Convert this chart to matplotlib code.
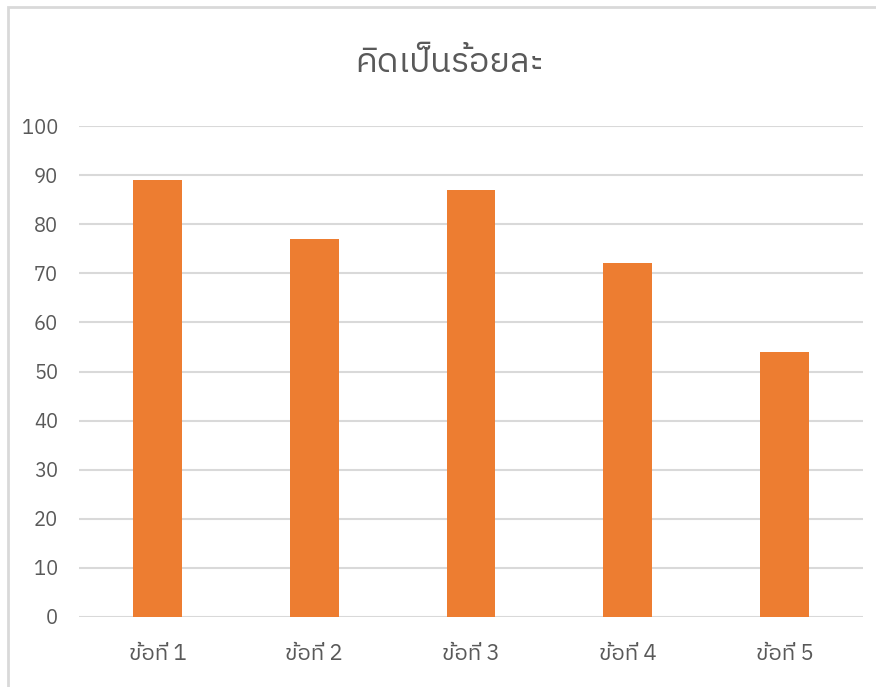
import matplotlib
matplotlib.use('Agg')
import matplotlib.pyplot as plt
from matplotlib import font_manager
from matplotlib.ft2font import FT2Font
from matplotlib.patches import Rectangle

categories = ['ข้อที่ 1', 'ข้อที่ 2', 'ข้อที่ 3', 'ข้อที่ 4', 'ข้อที่ 5']
values = [89, 77, 87, 72, 54]
yticks = [0, 10, 20, 30, 40, 50, 60, 70, 80, 90, 100]
title = 'คิดเป็นร้อยละ'

# find an installed font that has Thai glyphs
thai_font = None
names = []
for f in font_manager.fontManager.ttflist:
    try:
        cmap = FT2Font(f.fname).get_charmap()
    except Exception:
        continue
    if ord('ข') in cmap:
        names.append(f.name)
pref = [n for n in names if 'Thai' in n] + names
if pref:
    thai_font = pref[0]

families = ([thai_font] if thai_font else []) + ['DejaVu Sans']
plt.rcParams['font.family'] = families

fig = plt.figure(figsize=(8.76, 6.87), dpi=100)
fig.patches.append(Rectangle((8 / 876, -0.1), 1.2, 1 - 7 / 687 + 0.1,
                             transform=fig.transFigure, fill=False,
                             edgecolor='#d9d9d9', lw=2.0))

ax = fig.add_axes([79 / 876, 1 - 617 / 687, (863 - 79) / 876, (617 - 126) / 687])
x = range(len(categories))
ax.bar(x, values, width=0.31, color='#ed7d31', zorder=2)

ax.set_xlim(-0.5, len(categories) - 0.5)
ax.set_ylim(0, 100)
ax.set_yticks(yticks)
ax.set_xticks(list(x))
ax.set_xticklabels(categories)

for s in ax.spines.values():
    s.set_visible(False)
ax.grid(axis='y', color='#d9d9d9', lw=1.5, zorder=0)
ax.tick_params(axis='both', length=0, colors='#595959')
ax.tick_params(axis='y', pad=15, labelsize=14.5)
ax.tick_params(axis='x', pad=19, labelsize=16)

fig.text(450 / 876, 1 - 63 / 687, title, ha='center', va='center',
         fontsize=24.5, color='#595959')

if not thai_font:
    fig.text(0.01, 0.01, 'no thai font', fontsize=8)

fig.savefig('out.png', dpi=100)
